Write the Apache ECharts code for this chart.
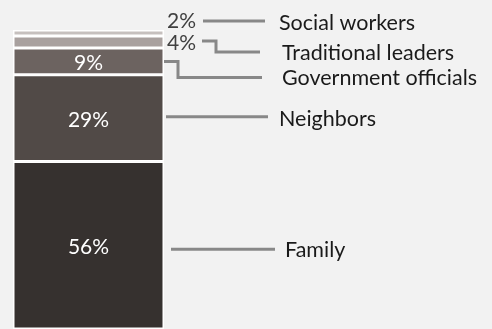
<!DOCTYPE html>
<html>
<head>
<meta charset="utf-8">
<script src="https://cdn.jsdelivr.net/npm/echarts@6/dist/echarts.min.js"></script>
<style>
  html, body { margin: 0; padding: 0; background: #f2f2f2; }
  #chart { width: 492px; height: 329px; }
</style>
</head>
<body>
<div id="chart"></div>
<script>
// Who people turn to, stacked from the bottom up
const categories = ['Family', 'Neighbors', 'Government officials', 'Traditional leaders', 'Social workers'];
const shares = [56, 29, 9, 4, 2];
const colors = ['#36312f', '#514a47', '#6c6360', '#a9a19f', '#c6c0be'];

const FONT = 'Lato, "Open Sans", sans-serif';

const chart = echarts.init(document.getElementById('chart'), null, { renderer: 'canvas' });

// label placement per segment: inside for the large ones, to the right for the thin ones
const labelFor = (i) => {
  if (i <= 2) {
    return { show: true, position: 'inside', offset: [0, 2], color: '#ffffff', fontSize: 21, fontFamily: FONT, formatter: '{c}%' };
  }
  return {
    show: true, position: 'right', distance: 3, offset: i === 4 ? [0, -12] : [0, 1],
    color: '#404040', fontSize: 21, fontFamily: FONT, formatter: '{c}%'
  };
};

chart.setOption({
  backgroundColor: '#f2f2f2',
  animation: false,
  grid: { left: 13, right: 328, top: 30, bottom: -4 },
  xAxis: { type: 'category', data: [''], show: false },
  yAxis: { type: 'value', min: 0, max: 100, show: false },
  series: categories.map((name, i) => ({
    name,
    type: 'bar',
    stack: 'total',
    barWidth: '100%',
    data: [shares[i]],
    itemStyle: { color: colors[i], borderColor: '#ffffff', borderWidth: 1.5 },
    label: labelFor(i)
  }))
});

// leader lines and category names, anchored to the stacked segment positions
function drawLeaders() {
  const barRight = 13 + 151;
  const mids = [];
  let acc = 0;
  shares.forEach(v => { mids.push(chart.convertToPixel({ yAxisIndex: 0 }, acc + v / 2)); acc += v; });
  const top = chart.convertToPixel({ yAxisIndex: 0 }, 100);

  const lineStyle = { stroke: '#888888', lineWidth: 3, fill: null };
  const textStyle = (x, y, t) => ({
    type: 'text', x, y,
    style: { text: t, fill: '#1a1a1a', font: '21.5px ' + FONT, verticalAlign: 'middle', align: 'left' }
  });

  const famY = mids[0] + 4;
  const neiY = mids[1] - 1.5;
  const govY = mids[2];
  const traY = mids[3] - 1;
  const socY = top - 9;

  const graphic = [
    { type: 'polyline', shape: { points: [[barRight + 7, famY], [275, famY]] }, style: lineStyle },
    { type: 'polyline', shape: { points: [[barRight + 2, neiY], [268, neiY]] }, style: lineStyle },
    { type: 'polyline', shape: { points: [[barRight - 1, govY], [178, govY], [178, govY + 16], [262, govY + 16]] }, style: lineStyle },
    { type: 'polyline', shape: { points: [[202, traY], [216, traY], [216, traY + 11], [260, traY + 11]] }, style: lineStyle },
    { type: 'polyline', shape: { points: [[203, socY], [265, socY]] }, style: lineStyle },
    textStyle(285, famY + 1, categories[0]),
    textStyle(279, neiY + 2, categories[1]),
    textStyle(282, govY + 17, categories[2]),
    textStyle(282, traY + 12, categories[3]),
    textStyle(279, socY + 2, categories[4])
  ];
  chart.setOption({ graphic });
}
drawLeaders();
</script>
</body>
</html>
